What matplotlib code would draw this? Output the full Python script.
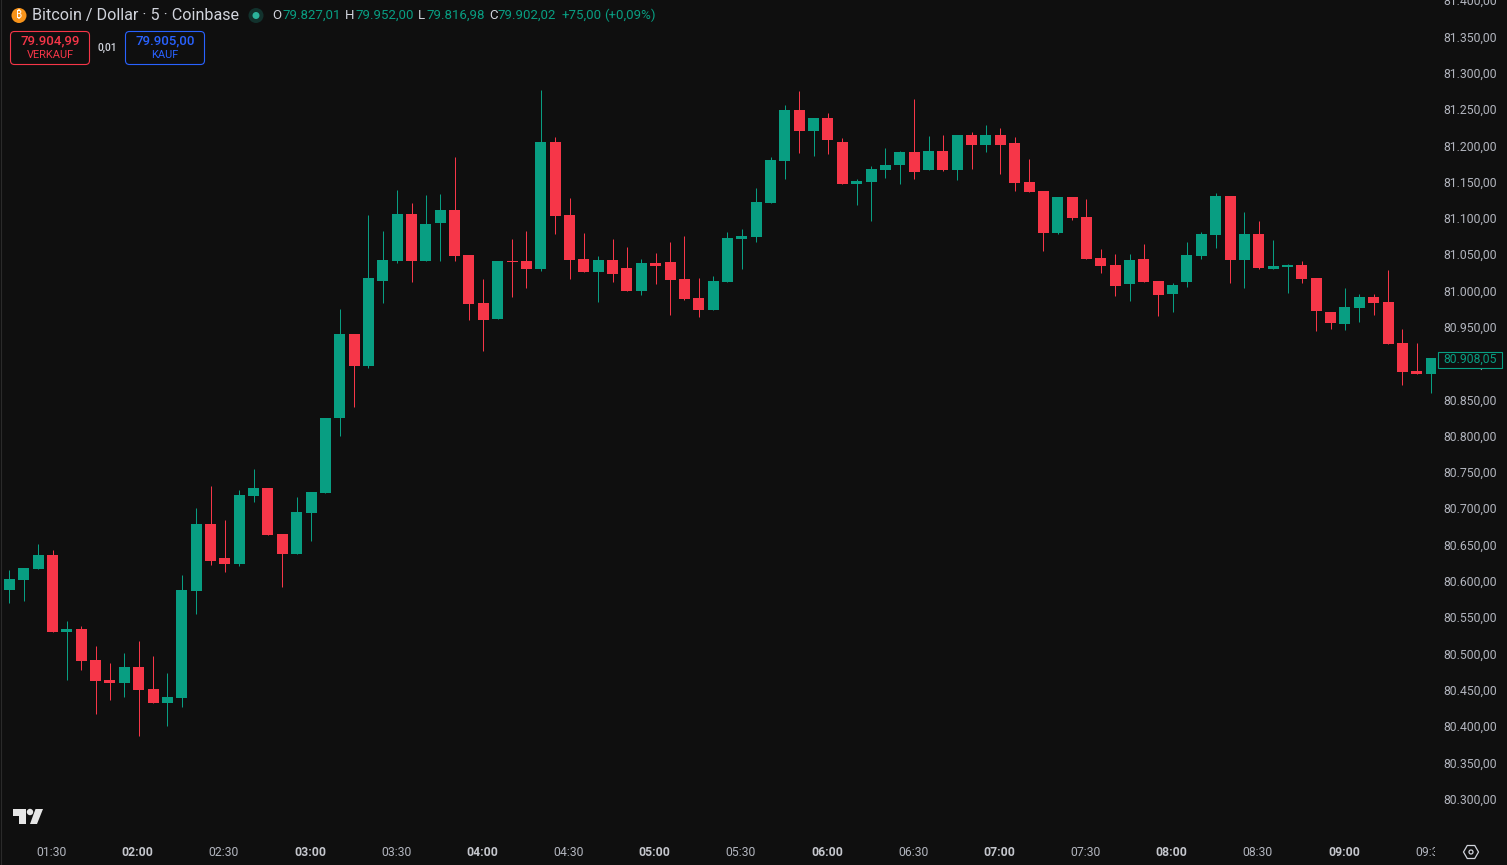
import matplotlib
matplotlib.use("Agg")
import matplotlib.pyplot as plt
from matplotlib.patches import Circle, FancyBboxPatch, Polygon, Rectangle, RegularPolygon
from matplotlib.transforms import Bbox, ScaledTranslation

plt.rcParams['font.family'] = ['Roboto', 'DejaVu Sans']

opens = [80589, 80603, 80618, 80637, 80531, 80535, 80492, 80465, 80461, 80483,
         80452, 80433, 80440, 80587, 80680, 80633, 80625, 80718, 80729, 80666,
         80638, 80695, 80722, 80825, 80941, 80897, 81014, 81042, 81107, 81042,
         81094, 81112, 81050, 80984, 80962, 81042, 81042, 81031, 81206, 81105,
         81045, 81027, 81043, 81032, 81001, 81039, 81041, 81017, 80991, 80975,
         81013, 81072, 81075, 81122, 81180, 81250, 81221, 81239, 81206, 81148,
         81151, 81167, 81174, 81192, 81167, 81193, 81167, 81216, 81202, 81216,
         81205, 81151, 81138, 81081, 81130, 81103, 81046, 81037, 81010, 81045,
         81015, 80997, 81013, 81049, 81078, 81132, 81043, 81079, 81031, 81034,
         81037, 81019, 80972, 80955, 80977, 80992, 80986, 80929, 80891, 80886]
closes = [80604, 80619, 80637, 80531, 80535, 80491, 80464, 80461, 80483, 80451,
          80433, 80441, 80589, 80680, 80629, 80625, 80720, 80729, 80665, 80638,
          80696, 80724, 80826, 80941, 80897, 81019, 81043, 81107, 81042, 81093,
          81112, 81049, 80983, 80961, 81042, 81041, 81031, 81206, 81104, 81043,
          81027, 81043, 81024, 81001, 81039, 81035, 81016, 80990, 80975, 81014,
          81074, 81076, 81123, 81181, 81250, 81221, 81239, 81209, 81148, 81152,
          81169, 81174, 81192, 81165, 81193, 81167, 81216, 81202, 81216, 81202,
          81150, 81137, 81081, 81130, 81101, 81045, 81035, 81008, 81043, 81013,
          80995, 81009, 81050, 81079, 81132, 81043, 81079, 81032, 81035, 81037,
          81017, 80973, 80957, 80979, 80992, 80984, 80928, 80889, 80886, 80908]
highs = [80616, 80619, 80652, 80644, 80546, 80539, 80512, 80488, 80502, 80519,
         80498, 80475, 80610, 80702, 80732, 80685, 80727, 80755, 80729, 80666,
         80717, 80724, 80826, 80976, 80941, 81105, 81083, 81140, 81122, 81133,
         81134, 81185, 81050, 81017, 81042, 81072, 81083, 81278, 81213, 81129,
         81081, 81049, 81072, 81061, 81045, 81053, 81068, 81076, 81019, 81021,
         81082, 81086, 81143, 81185, 81257, 81276, 81239, 81246, 81211, 81155,
         81173, 81198, 81194, 81265, 81214, 81216, 81216, 81220, 81229, 81225,
         81213, 81183, 81138, 81130, 81130, 81127, 81059, 81052, 81052, 81065,
         81015, 81012, 81068, 81082, 81136, 81132, 81110, 81097, 81071, 81038,
         81042, 81019, 80972, 81005, 80997, 80997, 81030, 80948, 80929, 80908]
lows = [80571, 80574, 80618, 80531, 80465, 80479, 80418, 80437, 80442, 80388,
        80433, 80402, 80428, 80556, 80623, 80614, 80622, 80710, 80665, 80593,
        80638, 80656, 80722, 80801, 80841, 80895, 80984, 81039, 81013, 81042,
        81042, 81042, 80961, 80918, 80962, 80992, 81005, 81028, 81079, 81017,
        81027, 80986, 81013, 81001, 80995, 81010, 80968, 80988, 80965, 80975,
        81013, 81031, 81068, 81122, 81155, 81191, 81187, 81189, 81148, 81119,
        81097, 81156, 81148, 81155, 81167, 81166, 81154, 81169, 81192, 81162,
        81138, 81137, 81056, 81079, 81099, 81045, 81026, 80994, 80987, 81013,
        80966, 80972, 81006, 81045, 81060, 81012, 81005, 81031, 81031, 80998,
        81012, 80946, 80948, 80947, 80958, 80968, 80928, 80871, 80886, 80860]

price_ticks = [81400, 81350, 81300, 81250, 81200, 81150, 81100, 81050, 81000, 80950,
               80900, 80850, 80800, 80750, 80700, 80650, 80600, 80550, 80500, 80450,
               80400, 80350, 80300]
time_labels = ['01:30', '02:00', '02:30', '03:00', '03:30', '04:00', '04:30', '05:00', '05:30',
               '06:00', '06:30', '07:00', '07:30', '08:00', '08:30', '09:00', '09:30']
last_price = 80908.05

BG = '#0f0f0f'
UP = '#089e82'
DOWN = '#f63648'
GREY = '#b2b5be'


def de_price(v):
    return f"{v:,.2f}".replace(',', 'X').replace('.', ',').replace('X', '.')


W, H = 1507, 865
fig = plt.figure(figsize=(W / 100, H / 100), dpi=100, facecolor=BG)
# main pane: 0..1436 px across, 0..833 px down
ax = fig.add_axes([0, (H - 833) / H, 1436 / W, 833 / H], facecolor=BG)

idx = list(range(len(opens)))
colors = [UP if c >= o else DOWN for o, c in zip(opens, closes)]
ax.vlines(idx, lows, highs, colors=colors, linewidth=0.72, zorder=2)
ax.bar(idx, [abs(c - o) for o, c in zip(opens, closes)], bottom=[min(o, c) for o, c in zip(opens, closes)],
       width=0.766, color=colors, linewidth=0, zorder=3)

ax.set_xlim(-0.66, 99.34)
ax.set_ylim(80254, 81401.5)
for s in ax.spines.values():
    s.set_visible(False)

ax.yaxis.tick_right()
ax.set_yticks(price_ticks)
ax.set_yticklabels([de_price(v) for v in price_ticks])
ax.tick_params(axis='y', length=0, pad=5.2, labelsize=8.8, labelcolor=GREY)
# labels sit one pixel higher than the plain tick position
up_1px = ScaledTranslation(0, 1 / 100, fig.dpi_scale_trans)
for lbl in ax.get_yticklabels():
    lbl.set_transform(lbl.get_transform() + up_1px)

time_pos = list(range(3, 100, 6))
ax.set_xticks(time_pos)
ax.set_xticklabels(time_labels)
ax.tick_params(axis='x', length=0, pad=9, labelsize=8.8, labelcolor=GREY)
left_1px = ScaledTranslation(-1 / 100, 0, fig.dpi_scale_trans)
for lbl in ax.get_xticklabels():
    lbl.set_transform(lbl.get_transform() + left_1px)
    if lbl.get_text().endswith(':00'):
        lbl.set_fontweight('bold')
        lbl.set_color('#c4c6cc')
# the last time label runs under the price scale and is cut off there
last_lbl = ax.get_xticklabels()[-1]
last_lbl.set_clip_box(Bbox([[0, 0], [1435, H]]))
last_lbl.set_clip_on(True)

# overlay in pixel coordinates for the header and logos
ui = fig.add_axes([0, 0, 1, 1], facecolor='none', zorder=5)
ui.set_xlim(0, W)
ui.set_ylim(H, 0)
ui.axis('off')

ui.plot([0.5, 0.5], [0, H], color='#2a2a2a', linewidth=0.8)

# last price tag on the price scale
ui.add_patch(Rectangle((1437.5, 351.5), 64, 16, facecolor=BG, edgecolor=UP, linewidth=0.8))
ui.text(1497, 359, de_price(last_price), color=UP, fontsize=8.8, va='center', ha='right')

ui.add_patch(Circle((19, 15.5), 7.5, facecolor='#f7931a', edgecolor='none'))
ui.text(19, 15.5, '₿', color='white', fontsize=7.5, ha='center', va='center',
        family=['Noto Sans', 'DejaVu Sans'], fontweight='bold')
ui.text(32, 15.5, 'Bitcoin / Dollar · 5 · Coinbase', color='#d1d4dc', fontsize=11.6, va='center', ha='left')

ui.add_patch(Circle((256, 15.5), 7.5, facecolor='#12322d', edgecolor='none'))
ui.add_patch(Circle((256, 15.5), 3.5, facecolor='#2bb39b', edgecolor='none'))

header = [(272, 'O', '#d1d4dc'), (282, '79.827,01', UP), (345, 'H', '#d1d4dc'), (355, '79.952,00', UP),
          (418, 'L', '#d1d4dc'), (426, '79.816,98', UP), (489, 'C', '#d1d4dc'), (497, '79.902,02', UP),
          (562, '+75,00', UP), (604, '(+0,09%)', UP)]
for x, s, c in header:
    ui.text(x, 15.5, s, color=c, fontsize=9.5, va='center', ha='left')

# sell / buy buttons
for x0, col, price, word in [(10.5, DOWN, '79.904,99', 'VERKAUF'), (125.5, '#2962ff', '79.905,00', 'KAUF')]:
    ui.add_patch(FancyBboxPatch((x0 + 4, 31.5 + 4), 79 - 8, 33 - 8, boxstyle='round,pad=4,rounding_size=4',
                                facecolor=BG, edgecolor=col, linewidth=0.8))
    ui.text(x0 + 39.5, 41, price, color=col, fontsize=9.5, ha='center', va='center', fontweight='medium')
    ui.text(x0 + 39.5, 55.5, word, color=col, fontsize=7.9, ha='center', va='center')
ui.text(107.5, 47.5, '0,01', color='#d1d4dc', fontsize=7.4, ha='center', va='center', fontweight='medium')

# TradingView mark
ui.add_patch(Polygon([(13, 809), (25.5, 809), (25.5, 824), (18.5, 824), (18.5, 816), (13, 816)],
                     facecolor='#e6e6e6', edgecolor='none'))
ui.add_patch(Circle((30, 812), 3.2, facecolor='#e6e6e6', edgecolor='none'))
ui.add_patch(Polygon([(35.5, 809), (43, 809), (37, 824), (30, 824)], facecolor='#e6e6e6', edgecolor='none'))

# settings icon
ui.add_patch(RegularPolygon((1471, 852), 6, radius=7.5, orientation=0.5236, facecolor='none', edgecolor='#d1d4dc', linewidth=0.9))
ui.add_patch(Circle((1471, 852), 2, facecolor='none', edgecolor='#d1d4dc', linewidth=0.9))

fig.savefig('out.png', dpi=100, facecolor=BG)
